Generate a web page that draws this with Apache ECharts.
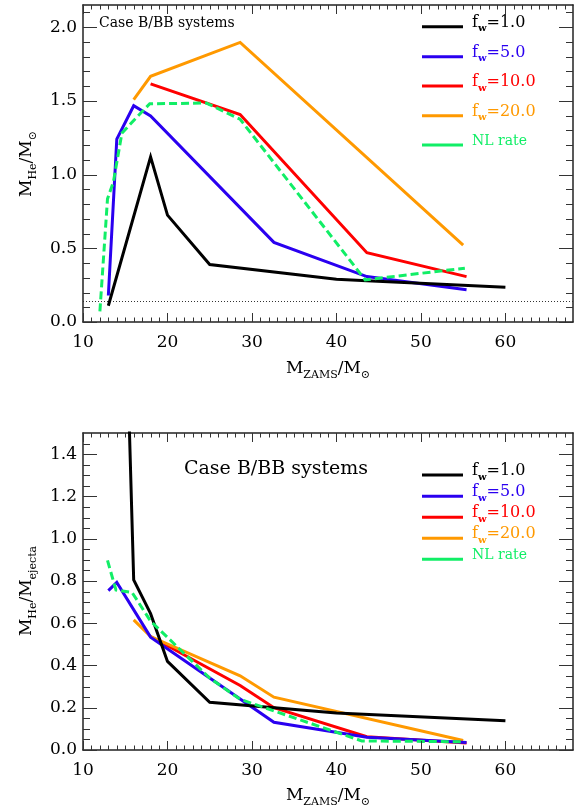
<!DOCTYPE html>
<html><head><meta charset="utf-8">
<script src="https://cdn.jsdelivr.net/npm/echarts@6/dist/echarts.min.js"></script>
<style>html,body{margin:0;padding:0;background:#fff}#c{width:581px;height:810px}</style>
</head><body><div id="c"></div>
<script>
// ---------- DATA: top panel (M_He / M_sun vs M_ZAMS) ----------
const fw1TopX = [13, 18, 20, 25, 40, 43.6, 60];
const fw1TopY = [0.11, 1.12, 0.725, 0.39, 0.29, 0.28, 0.236];
const fw5TopX = [13, 14, 16, 18, 32.6, 43.6, 55.4];
const fw5TopY = [0.18, 1.24, 1.467, 1.397, 0.54, 0.308, 0.218];
const fw10TopX = [18, 28.6, 43.6, 55.4];
const fw10TopY = [1.615, 1.407, 0.47, 0.308];
const fw20TopX = [16, 18, 28.6, 55];
const fw20TopY = [1.509, 1.666, 1.896, 0.522];
const nlTopX = [12, 12.9, 13.6, 14.6, 16, 17.9, 24.6, 28.6, 43.4, 55.2];
const nlTopY = [0.072, 0.835, 0.95, 1.28, 1.367, 1.48, 1.485, 1.375, 0.286, 0.365];
const thresholdTop = 0.14;

// ---------- DATA: bottom panel (M_He / M_ejecta vs M_ZAMS) ----------
const fw1BotX = [13, 16, 18, 20, 25, 40, 60];
const fw1BotY = [5.0, 0.805, 0.645, 0.419, 0.226, 0.175, 0.138];
const fw5BotX = [13, 14, 18, 32.6, 43.6, 55.4];
const fw5BotY = [0.754, 0.793, 0.534, 0.131, 0.06, 0.036];
const fw10BotX = [18, 28.6, 32.6, 43.6, 55.4];
const fw10BotY = [0.537, 0.305, 0.2, 0.063, 0.033];
const fw20BotX = [16, 18, 28.6, 32.6, 55];
const fw20BotY = [0.616, 0.537, 0.351, 0.25, 0.045];
const nlBotX = [12.9, 13.9, 15.8, 18, 25, 28.6, 32.6, 43, 55.2];
const nlBotY = [0.897, 0.757, 0.746, 0.61, 0.34, 0.24, 0.185, 0.043, 0.039];

// ---------- axes / ticks ----------
const xRange = [10, 68];
const topYRange = [0, 2.15];
const botYRange = [0, 1.5];
const xMajorTicks = [10, 20, 30, 40, 50, 60];
const xMinorTicks = [11,12,13,14,15,16,17,18,19,21,22,23,24,25,26,27,28,29,31,32,33,34,35,36,37,38,39,
                     41,42,43,44,45,46,47,48,49,51,52,53,54,55,56,57,58,59,61,62,63,64,65,66,67];
const topYMajorTicks = [0, 0.5, 1.0, 1.5, 2.0];
const topYMinorTicks = [0.1,0.2,0.3,0.4,0.6,0.7,0.8,0.9,1.1,1.2,1.3,1.4,1.6,1.7,1.8,1.9,2.1];
const botYMajorTicks = [0, 0.2, 0.4, 0.6, 0.8, 1.0, 1.2, 1.4];
const botYMinorTicks = [0.05,0.1,0.15,0.25,0.3,0.35,0.45,0.5,0.55,0.65,0.7,0.75,0.85,0.9,0.95,
                        1.05,1.1,1.15,1.25,1.3,1.35,1.45];

// ---------- labels ----------
const seriesNames = ['f_w=1.0', 'f_w=5.0', 'f_w=10.0', 'f_w=20.0', 'NL rate'];
const legendValues = ['1.0', '5.0', '10.0', '20.0'];
const panelTitle = 'Case B/BB systems';

// ---------- style ----------
const FF = "'DejaVu Serif', serif";
const COLORS = ['#000000', '#2a00f0', '#ff0000', '#ff9900', '#11ee66'];
const zip = (xs, ys) => xs.map((x, i) => [x, ys[i]]);
const isOn = (v, list) => list.some(t => Math.abs(t - v) < 1e-9);

function xAx(grid, pos, label) {
  return {
    type: 'value', gridIndex: grid, position: pos, min: xRange[0], max: xRange[1], interval: 10,
    axisLine: {show: true, onZero: false, lineStyle: {color: '#222', width: 1.5}},
    axisTick: {show: false},
    axisLabel: {show: label, margin: 12, fontFamily: FF, fontSize: 17, color: '#000',
      formatter: v => isOn(v, xMajorTicks) ? String(Math.round(v)) : ''},
    splitLine: {show: false}
  };
}
function yAx(grid, pos, range, interval, majors, label) {
  return {
    type: 'value', gridIndex: grid, position: pos, min: range[0], max: range[1], interval: interval,
    axisLine: {show: true, onZero: false, lineStyle: {color: '#222', width: 1.5}},
    axisTick: {show: false},
    axisLabel: {show: label, margin: 6, fontFamily: FF, fontSize: 17, color: '#000',
      formatter: v => isOn(v, majors) ? v.toFixed(1) : ''},
    splitLine: {show: false}
  };
}
const xAxis = [xAx(0, 'bottom', true), xAx(0, 'top', false), xAx(1, 'bottom', true), xAx(1, 'top', false)];
const yAxis = [
  yAx(0, 'left', topYRange, 0.5, topYMajorTicks, true), yAx(0, 'right', topYRange, 0.5, topYMajorTicks, false),
  yAx(1, 'left', botYRange, 0.2, botYMajorTicks, true), yAx(1, 'right', botYRange, 0.2, botYMajorTicks, false)
];

function ser(name, xs, ys, ci, axisIdx, z, dashed) {
  return {
    type: 'line', name: name, data: zip(xs, ys), xAxisIndex: axisIdx, yAxisIndex: axisIdx,
    showSymbol: false, symbol: 'none', clip: true, z: z, silent: true,
    lineStyle: {color: COLORS[ci], width: 3, type: dashed ? [8, 4] : 'solid', cap: 'butt', join: 'miter'}
  };
}

// inward tick marks on all four sides, placed through the axis scales
function tickSer(axisIdx, vals, orient, len, yr) {
  return {
    type: 'custom', coordinateSystem: 'cartesian2d', xAxisIndex: axisIdx, yAxisIndex: axisIdx,
    silent: true, clip: false, z: 10,
    data: vals.map(v => orient === 'x' ? [v, yr[0]] : [xRange[0], v]),
    renderItem: (params, api) => {
      const v = api.value(orient === 'x' ? 0 : 1);
      let lines;
      if (orient === 'x') {
        const a = api.coord([v, yr[0]]), b = api.coord([v, yr[1]]);
        const x = Math.round(a[0]) + 0.5;
        lines = [[x, a[1], x, a[1] - len], [x, b[1], x, b[1] + len]];
      } else {
        const a = api.coord([xRange[0], v]), b = api.coord([xRange[1], v]);
        const y = Math.round(a[1]) + 0.5;
        lines = [[a[0], y, a[0] + len, y], [b[0], y, b[0] - len, y]];
      }
      return {type: 'group', children: lines.map(l => ({
        type: 'line', shape: {x1: l[0], y1: l[1], x2: l[2], y2: l[3]},
        style: {stroke: '#333', lineWidth: 1}}))};
    }
  };
}

const series = [
  ser(seriesNames[2], fw10TopX, fw10TopY, 2, 0, 2, false),
  ser(seriesNames[3], fw20TopX, fw20TopY, 3, 0, 3, false),
  ser(seriesNames[1], fw5TopX, fw5TopY, 1, 0, 4, false),
  Object.assign(ser(seriesNames[0], fw1TopX, fw1TopY, 0, 0, 5, false), {
    markLine: {silent: true, symbol: ['none', 'none'], label: {show: false},
      lineStyle: {color: '#333', width: 1, type: [1, 2]}, data: [{yAxis: thresholdTop}]}
  }),
  ser(seriesNames[4], nlTopX, nlTopY, 4, 0, 6, true),

  ser(seriesNames[2], fw10BotX, fw10BotY, 2, 2, 2, false),
  ser(seriesNames[3], fw20BotX, fw20BotY, 3, 2, 3, false),
  ser(seriesNames[1], fw5BotX, fw5BotY, 1, 2, 4, false),
  ser(seriesNames[0], fw1BotX, fw1BotY, 0, 2, 5, false),
  ser(seriesNames[4], nlBotX, nlBotY, 4, 2, 6, true),

  tickSer(0, xMajorTicks, 'x', 9, topYRange),
  tickSer(0, xMinorTicks, 'x', 4.5, topYRange),
  tickSer(0, topYMajorTicks, 'y', 14, topYRange),
  tickSer(0, topYMinorTicks, 'y', 7, topYRange),
  tickSer(2, xMajorTicks, 'x', 9, botYRange),
  tickSer(2, xMinorTicks, 'x', 4.5, botYRange),
  tickSer(2, botYMajorTicks, 'y', 14, botYRange),
  tickSer(2, botYMinorTicks, 'y', 7, botYRange)
];

// ---------- text / legend graphics ----------
function richTitle(parts, size, subSize, color) {
  return {
    text: parts, fill: color, align: 'center', verticalAlign: 'middle',
    rich: {
      m: {fontFamily: FF, fontSize: size, lineHeight: 24, fill: color, verticalAlign: 'middle'},
      s: {fontFamily: FF, fontSize: subSize, lineHeight: 24, fill: color, verticalAlign: 'bottom'}
    }
  };
}
const graphic = [];
graphic.push({type: 'text', x: 328, y: 369, style: richTitle('{m|M}{s|ZAMS}{m|/M}{s|⊙}', 17, 11, '#000'), silent: true});
graphic.push({type: 'text', x: 328, y: 796, style: richTitle('{m|M}{s|ZAMS}{m|/M}{s|⊙}', 17, 11, '#000'), silent: true});
graphic.push({type: 'text', x: 27, y: 164, rotation: Math.PI / 2, style: richTitle('{m|M}{s|He}{m|/M}{s|⊙}', 17, 11, '#000'), silent: true});
graphic.push({type: 'text', x: 27, y: 591, rotation: Math.PI / 2, style: richTitle('{m|M}{s|He}{m|/M}{s|ejecta}', 17, 11, '#000'), silent: true});
graphic.push({type: 'text', x: 99, y: 23, style: {text: panelTitle, fontFamily: FF, fontSize: 14, fill: '#000', align: 'left', verticalAlign: 'middle'}, silent: true});
graphic.push({type: 'text', x: 184, y: 469, style: {text: panelTitle, fontFamily: FF, fontSize: 19, fill: '#000', align: 'left', verticalAlign: 'middle'}, silent: true});
function addLegend(rows) {
  rows.forEach((ry, i) => {
    graphic.push({type: 'line', shape: {x1: 422, y1: ry, x2: 463, y2: ry}, style: {stroke: COLORS[i], lineWidth: 3}, silent: true});
    if (i < 4) {
      graphic.push({type: 'text', x: 472, y: ry - 4, silent: true, style: {
        text: '{m|f}{s|w}{m|=' + legendValues[i] + '}', align: 'left', verticalAlign: 'middle',
        rich: {
          m: {fontFamily: FF, fontSize: 16, lineHeight: 22, fill: COLORS[i], verticalAlign: 'middle'},
          s: {fontFamily: FF, fontSize: 10, fontWeight: 'bold', lineHeight: 22, fill: COLORS[i], verticalAlign: 'bottom'}
        }}});
    } else {
      graphic.push({type: 'text', x: 472, y: ry - 4, silent: true, style: {
        text: seriesNames[4], fontFamily: FF, fontSize: 14, fill: COLORS[i], align: 'left', verticalAlign: 'middle'}});
    }
  });
}
addLegend([26.7, 56.7, 86, 115.7, 145]);
addLegend([475, 496.3, 517.3, 538.3, 559.3]);

const chart = echarts.init(document.getElementById('c'), null, {renderer: 'canvas'});
chart.setOption({
  animation: false,
  backgroundColor: '#fff',
  grid: [
    {left: 83, top: 5, width: 490, height: 317},
    {left: 83, top: 433, width: 490, height: 317}
  ],
  xAxis: xAxis,
  yAxis: yAxis,
  series: series,
  graphic: graphic
});
</script>
</body></html>
